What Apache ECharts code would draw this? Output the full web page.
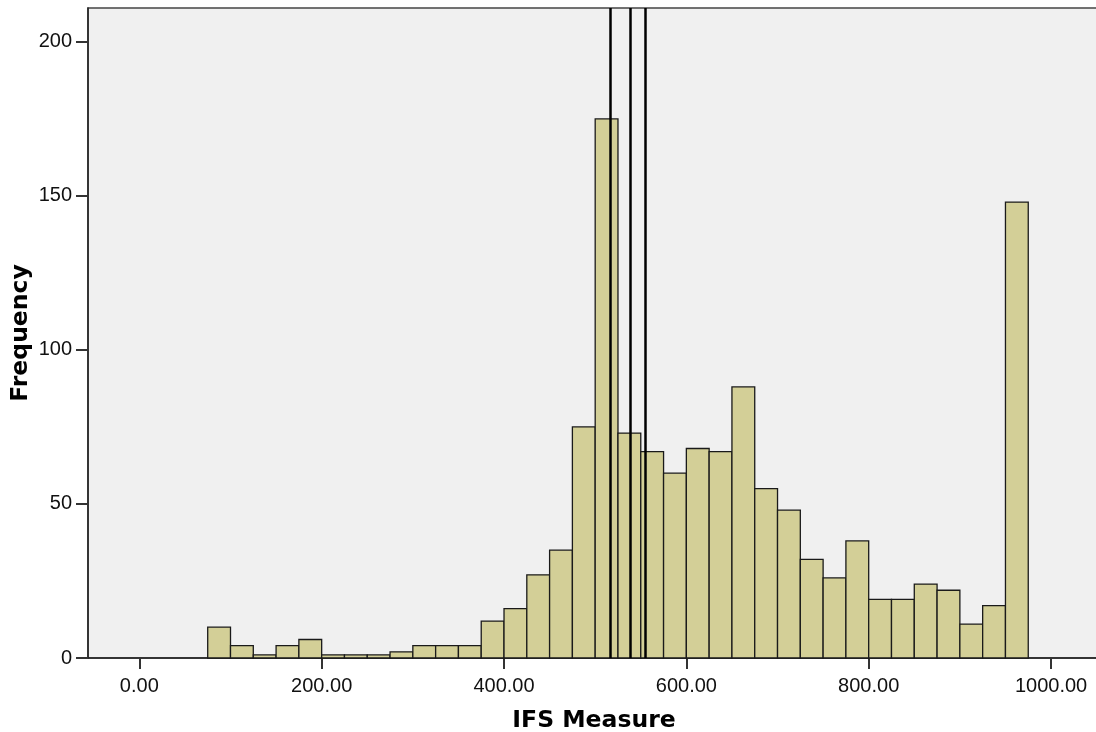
<!DOCTYPE html>
<html>
<head>
<meta charset="utf-8">
<script src="https://cdn.jsdelivr.net/npm/echarts@6/dist/echarts.min.js"></script>
<style>
html,body{margin:0;padding:0;background:#fff;}
#chart{width:1096px;height:732px;}
</style>
</head>
<body>
<div id="chart"></div>
<script>
// Histogram bins (lower edges) and frequencies
var binLow = [75,100,125,150,175,200,225,250,275,300,325,350,375,400,425,450,475,500,525,550,575,600,625,650,675,700,725,750,775,800,825,850,875,900,925,950];
var binWidth = 25;
var counts = [10,4,1,4,6,1,1,1,2,4,4,4,12,16,27,35,75,175,73,67,60,68,67,88,55,48,32,26,38,19,19,24,22,11,17,148];
// Reference lines
var refLines = [516, 539, 555];
// Tick labels
var xTicks = [0,200,400,600,800,1000];
var yTicks = [0,50,100,150,200];

var chart = echarts.init(document.getElementById('chart'), null, {renderer:'canvas'});

var barData = binLow.map(function(lo, i){ return [lo, lo + binWidth, counts[i]]; });

var option = {
  animation: false,
  backgroundColor: '#ffffff',
  grid: {
    left: 88, top: 8, width: 1012, height: 650,
    outerBoundsMode: 'none',
    containLabel: false,
    show: true, backgroundColor: '#F0F0F0', borderColor: '#444', borderWidth: 1.5
  },
  xAxis: {
    type: 'value',
    min: -56.3, max: 1053.7,
    name: 'IFS Measure',
    nameLocation: 'middle',
    nameGap: 51,
    nameMoveOverlap: false,
    nameTextStyle: {fontFamily: 'DejaVu Sans', fontWeight: 'bold', fontSize: 23.5, color: '#000'},
    axisLine: {show: true, onZero: false, lineStyle: {color: '#222', width: 1.5}},
    axisTick: {show: true, length: 11, customValues: xTicks, lineStyle: {color: '#333', width: 2}},
    axisLabel: {
      customValues: xTicks,
      margin: 18,
      fontFamily: 'Liberation Sans, Arial, sans-serif', fontSize: 20, color: '#111',
      formatter: function(v){ return v.toFixed(2); }
    },
    splitLine: {show: false}
  },
  yAxis: {
    type: 'value',
    min: 0, max: 211, interval: 50,
    name: 'Frequency',
    nameLocation: 'middle',
    nameRotate: 90,
    nameGap: 55,
    nameMoveOverlap: false,
    nameTextStyle: {fontFamily: 'DejaVu Sans', fontWeight: 'bold', fontSize: 23.5, color: '#000'},
    axisLine: {show: true, onZero: false, lineStyle: {color: '#222', width: 1.5}},
    axisTick: {show: true, length: 12, customValues: yTicks, lineStyle: {color: '#333', width: 2}},
    axisLabel: {
      customValues: yTicks,
      margin: 16,
      fontFamily: 'Liberation Sans, Arial, sans-serif', fontSize: 20, color: '#111'
    },
    splitLine: {show: false}
  },
  series: [
    {
      type: 'custom',
      data: barData,
      encode: {x: [0, 1], y: 2},
      renderItem: function(params, api){
        var p0 = api.coord([api.value(0), api.value(2)]);
        var p1 = api.coord([api.value(1), 0]);
        return {
          type: 'rect',
          shape: {x: p0[0], y: p0[1], width: p1[0] - p0[0], height: p1[1] - p0[1]},
          style: {fill: '#D3CF97', stroke: '#1a1a1a', lineWidth: 1.3}
        };
      },
      z: 2
    },
    {
      type: 'line',
      data: [],
      markLine: {
        silent: true,
        symbol: 'none',
        label: {show: false},
        lineStyle: {color: '#000', width: 2.5, type: 'solid'},
        data: refLines.map(function(v){ return {xAxis: v}; })
      },
      z: 5
    }
  ]
};
chart.setOption(option);
</script>
</body>
</html>
